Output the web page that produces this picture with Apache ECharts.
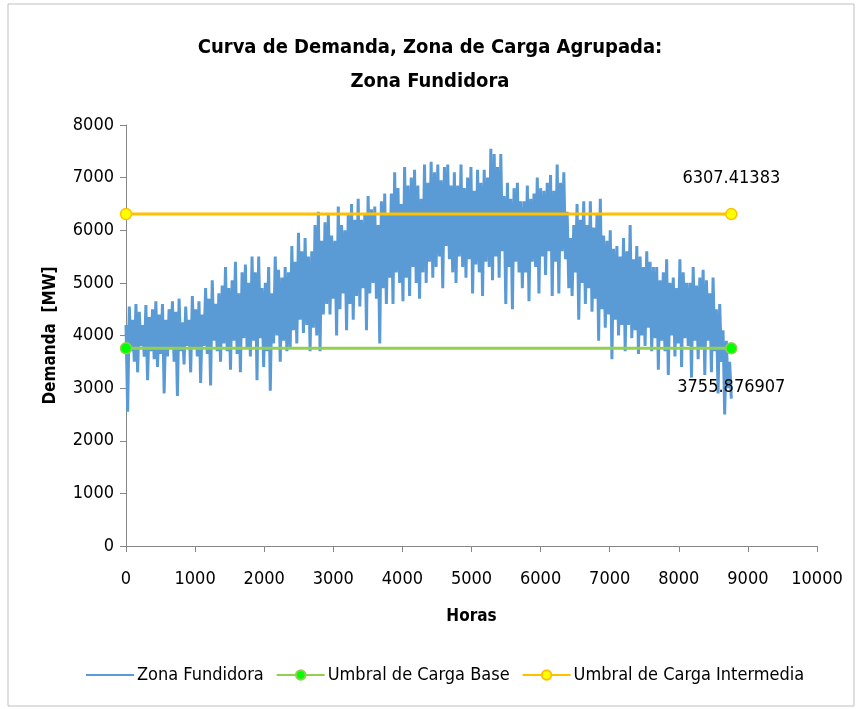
<!DOCTYPE html>
<html>
<head>
<meta charset="utf-8">
<script src="https://cdn.jsdelivr.net/npm/echarts@6/dist/echarts.min.js"></script>
<style>
  html, body { margin: 0; padding: 0; background: #fff; }
  #grafica { width: 860px; height: 709px; }
</style>
</head>
<body>
<div id="grafica"></div>
<script>
// Paso entre puntos leídos (horas)
var pasoHoras = 24;

// Picos (máximos), uno cada 48 h
var picos = [
  4200, 4550, 4300, 4600, 4450, 4200, 4580, 4350, 4500, 4650,
  4400, 4600, 4300, 4500, 4650, 4450, 4700, 4250, 4550, 4300,
  4750, 4500, 4650, 4400, 4900, 4700, 5050, 4600, 4800, 4950,
  5300, 4900, 5050, 5400, 4800, 5200, 5350, 5000, 5500, 5200,
  5500, 4900, 5000, 5300, 4800, 5500, 5250, 5100, 5300, 5200,
  5700, 5400, 5950, 5600, 5850, 5500, 5600, 6100, 6350, 5800,
  6150, 6300, 5900, 5800, 6450, 6100, 6000, 6300, 6500, 6200,
  6600, 6200, 6300, 6650, 6400, 6450, 6100, 6550, 6700, 6300,
  6700, 7100, 6800, 6500, 7200, 6850, 7000, 7150, 6850, 6600,
  7250, 6900, 7300, 7100, 7250, 6950, 7200, 7250, 6850, 7100,
  6850, 7250, 6800, 7000, 7200, 6750, 7150, 6900, 7150, 7000,
  7550, 7450, 7200, 7450, 6650, 6900, 6600, 6800, 6900, 6550,
  6550, 6850, 6600, 6700, 7000, 6800, 6750, 6900, 7050, 6750,
  7250, 6900, 7100, 6350, 5850, 6100, 6500, 6200, 6550, 6100,
  6550, 6050, 6300, 6600, 5900, 5800, 6000, 5650, 5700, 5500,
  5850, 5600, 6100, 5450, 5700, 5500, 5300, 5600, 5400, 5300,
  5300, 5050, 5200, 5450, 5000, 5100, 4900, 5450, 5200, 5000,
  5000, 5300, 4950, 5100, 5250, 5050, 4800, 5100, 4500, 4600,
  4100, 3900, 3500
];

// Valles (mínimos), desplazados 24 h
var valles = [
  2550, 3700, 3500, 3300, 3800, 3600, 3150, 3700, 3550, 3400,
  3650, 2900, 3600, 3750, 3500, 2850, 3700, 3450, 3800, 3300,
  3750, 3600, 3100, 3800, 3650, 3050, 3900, 3700, 3500, 3850,
  3700, 3350, 3900, 3650, 3300, 3950, 3750, 3600, 3900, 3150,
  3950, 3400, 3700, 2950, 3850, 4000, 3500, 3900, 3700, 3750,
  4100, 3850, 4300, 4050, 4200, 3700, 4150, 4000, 3700, 4400,
  4600, 4400, 4700, 4000, 4500, 4800, 4100, 4600, 4300, 4750,
  4550, 4900, 4100, 4800, 5000, 4700, 3850, 4900, 4600, 5100,
  4600, 5200, 5000, 4650, 5100, 4750, 5300, 5000, 4700, 5200,
  5000, 5400, 5100, 5300, 5500, 4900, 5700, 5450, 5200, 5000,
  5500, 5300, 5100, 5450, 4800, 5350, 5200, 4750, 5400, 5300,
  5050, 5500, 5100, 5600, 4600, 5300, 4500, 5400, 5200, 4900,
  5200, 4650, 5400, 5300, 4800, 5500, 5150, 5600, 4750, 5400,
  4800, 5600, 5450, 4900, 4750, 5200, 4300, 5000, 4600, 4900,
  4450, 4700, 3900, 4500, 4150, 4400, 3550, 4300, 4000, 4200,
  3700, 4200, 3950, 4100, 3650, 4000, 3800, 4150, 3700, 3950,
  3350, 3900, 3700, 3250, 4000, 3600, 3850, 3400, 3950, 3800,
  3200, 3900, 3550, 3750, 3250, 3900, 3300, 3700, 2900, 3500,
  2500, 3000, 2800
];

var horaFinal = 8760;
var umbralBase = 3755.876907;
var umbralIntermedia = 6307.41383;
var horasUmbral = [0, horaFinal];

// Arma la serie alternando pico y valle
var zonaFundidora = [];
for (var i = 0; i < picos.length; i++) {
  zonaFundidora.push([i * 2 * pasoHoras, picos[i]]);
  zonaFundidora.push([Math.min((i * 2 + 1) * pasoHoras, horaFinal), valles[i]]);
}

var base = horasUmbral.map(function (h) { return [h, umbralBase]; });
var intermedia = horasUmbral.map(function (h) { return [h, umbralIntermedia]; });

var fuente = "'Liberation Sans Narrow', 'DejaVu Sans Condensed', sans-serif";

var grafica = echarts.init(document.getElementById('grafica'));

var opciones = {
  backgroundColor: '#fff',
  animation: false,
  textStyle: { fontFamily: fuente },
  title: {
    text: 'Curva de Demanda, Zona de Carga Agrupada:\nZona Fundidora',
    left: 'center',
    top: 26,
    textStyle: {
      fontFamily: fuente,
      fontSize: 20,
      fontWeight: 'bold',
      lineHeight: 34,
      color: '#000'
    }
  },
  graphic: [
    {
      type: 'rect',
      shape: { x: 8, y: 4, width: 846, height: 702 },
      style: { fill: 'none', stroke: '#bfbfbf', lineWidth: 1 },
      silent: true
    }
  ],
  legend: {
    bottom: 20,
    left: 80,
    itemWidth: 48,
    itemHeight: 12,
    itemGap: 12,
    textStyle: { fontFamily: fuente, fontSize: 18, color: '#000', padding: [0, 0, 0, -2] },
    data: [
      { name: 'Zona Fundidora', itemStyle: { opacity: 0 } },
      'Umbral de Carga Base',
      'Umbral de Carga Intermedia'
    ]
  },
  grid: { left: 126, right: 43, top: 125, bottom: 163 },
  xAxis: {
    type: 'value',
    min: 0,
    max: 10000,
    interval: 1000,
    name: 'Horas',
    nameLocation: 'middle',
    nameGap: 62,
    nameTextStyle: { fontFamily: fuente, fontSize: 17, fontWeight: 'bold', color: '#000' },
    axisLine: { lineStyle: { color: '#868686', width: 1 } },
    axisTick: { show: true, length: 6, lineStyle: { color: '#868686' } },
    axisLabel: {
      fontSize: 18, color: '#000', margin: 24,
      formatter: function (v) { return String(v); }
    },
    splitLine: { show: false }
  },
  yAxis: {
    type: 'value',
    min: 0,
    max: 8000,
    interval: 1000,
    name: 'Demanda  [MW]',
    nameLocation: 'middle',
    nameGap: 67,
    nameRotate: 90,
    nameTextStyle: { fontFamily: fuente, fontSize: 17, fontWeight: 'bold', color: '#000' },
    axisLine: { show: true, lineStyle: { color: '#868686', width: 1 } },
    axisTick: { show: true, length: 6, lineStyle: { color: '#868686' } },
    axisLabel: {
      fontSize: 18, color: '#000', margin: 12,
      formatter: function (v) { return String(v); }
    },
    splitLine: { show: false }
  },
  series: [
    {
      name: 'Zona Fundidora',
      type: 'line',
      data: zonaFundidora,
      symbol: 'none',
      lineStyle: { color: '#5B9BD5', width: 3 },
      itemStyle: { color: '#5B9BD5' },
      z: 2
    },
    {
      name: 'Umbral de Carga Base',
      type: 'line',
      data: base,
      symbol: 'circle',
      symbolSize: 11,
      lineStyle: { color: '#92D050', width: 3 },
      itemStyle: { color: '#00FF00', borderColor: '#92D050', borderWidth: 1.5 },
      label: {
        show: true,
        position: 'bottom',
        distance: 24,
        fontSize: 18,
        color: '#000',
        formatter: function (p) { return p.dataIndex === 1 ? String(umbralBase) : ''; }
      },
      z: 3
    },
    {
      name: 'Umbral de Carga Intermedia',
      type: 'line',
      data: intermedia,
      symbol: 'circle',
      symbolSize: 11,
      lineStyle: { color: '#FFC000', width: 3 },
      itemStyle: { color: '#FFFF00', borderColor: '#FFC000', borderWidth: 1.5 },
      label: {
        show: true,
        position: 'top',
        distance: 20,
        fontSize: 18,
        color: '#000',
        formatter: function (p) { return p.dataIndex === 1 ? String(umbralIntermedia) : ''; }
      },
      z: 3
    }
  ]
};

grafica.setOption(opciones);
</script>
</body>
</html>
